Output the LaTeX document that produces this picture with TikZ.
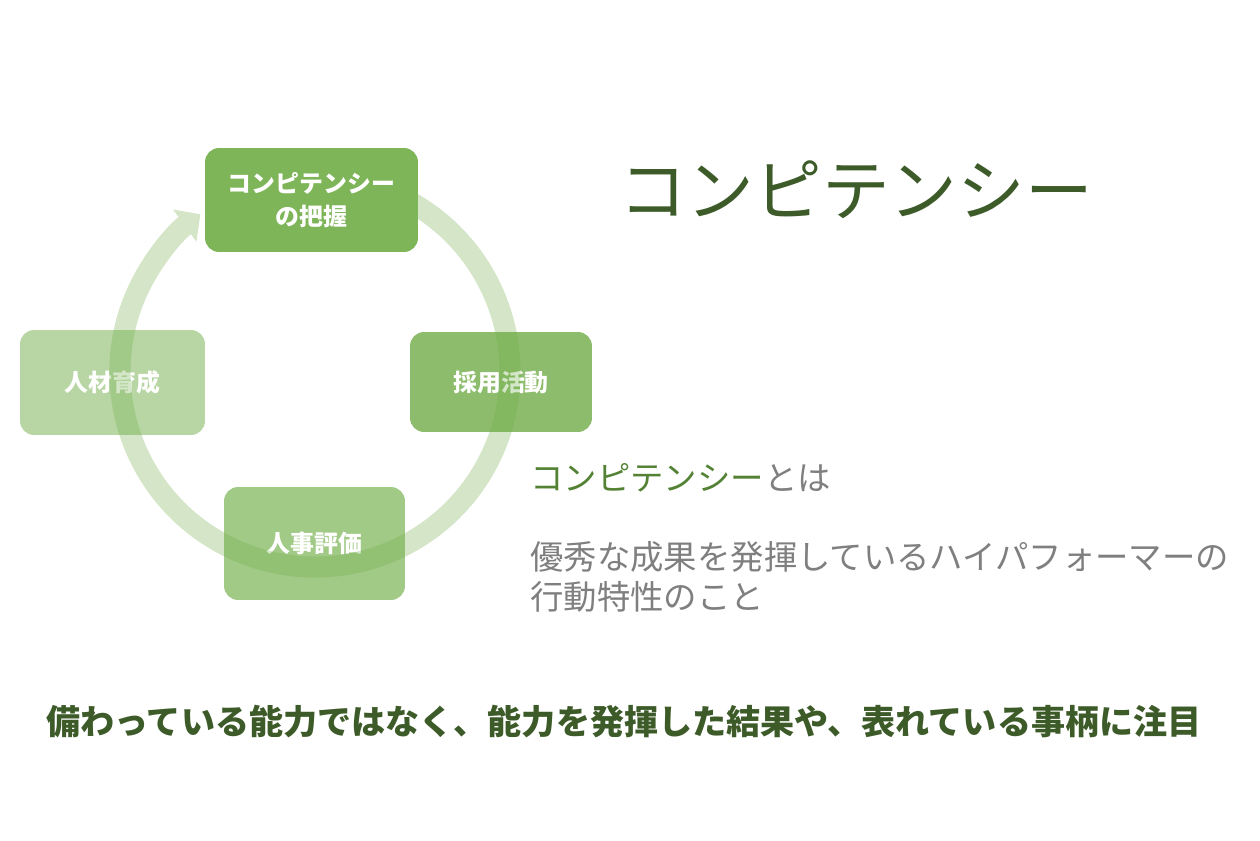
\documentclass[tikz,border=0pt]{standalone}
\usepackage{fontspec}
\setmainfont{Noto Sans CJK JP}
\usetikzlibrary{arrows.meta}
\definecolor{cgreen}{HTML}{70AD47}
\definecolor{darkgreen}{HTML}{3D5B28}
\definecolor{midgreen}{HTML}{548235}
\definecolor{textgray}{HTML}{7F7F7F}
\tikzset{
  cyclebox/.style={rounded corners=8pt, align=center, text=white, inner sep=0pt,
    font=\fontsize{13.6}{19}\selectfont\bfseries},
  ringline/.style={cgreen, line width=12pt, -{Triangle[width=22pt, length=11pt]}}
}
\begin{document}
\begin{tikzpicture}[x=0.02cm, y=0.02cm]
\useasboundingbox (0,0) rectangle (1260,840);
\node[cyclebox, fill=cgreen!80, minimum width=3.64cm, minimum height=2.0cm] (saiyo) at (501,458) {採用活動};
\node[cyclebox, fill=cgreen!65, minimum width=3.62cm, minimum height=2.26cm] (hyoka) at (314.5,296.5) {人事評価};
\node[cyclebox, fill=cgreen!50, minimum width=3.7cm, minimum height=2.1cm] (ikusei) at (112.5,457.5) {人材育成};
% cycle ring
\coordinate (ringc) at (315,468);
\begin{scope}[transparency group, opacity=0.3]
\draw[ringline] ([shift={(62:195)}]ringc) arc[start angle=62, end angle=-234, radius=195];
\end{scope}
\node[cyclebox, fill=cgreen!90, minimum width=4.26cm, minimum height=2.08cm] (haaku) at (311.5,640) {コンピテンシー\\の把握};
% right side texts
\node[text=darkgreen, font=\fontsize{38.5}{44}\selectfont] (title) at (856,650) {コンピテンシー};
\node[anchor=west, inner sep=0pt, font=\fontsize{19}{23}\selectfont] (towa) at (530,362)
{\textcolor{midgreen}{コンピテンシー}\textcolor{textgray}{とは}};
\node[anchor=north west, inner sep=0pt, align=left, text=textgray, font=\fontsize{19}{22.7}\selectfont] (teigi) at (530,299)
{優秀な成果を発揮しているハイパフォーマーの\\行動特性のこと};
\node[text=darkgreen, font=\fontsize{19.4}{23}\selectfont\bfseries] (chumoku) at (624,118)
{備わっている能力ではなく、能力を発揮した結果や、表れている事柄に注目};
\end{tikzpicture}
\end{document}
